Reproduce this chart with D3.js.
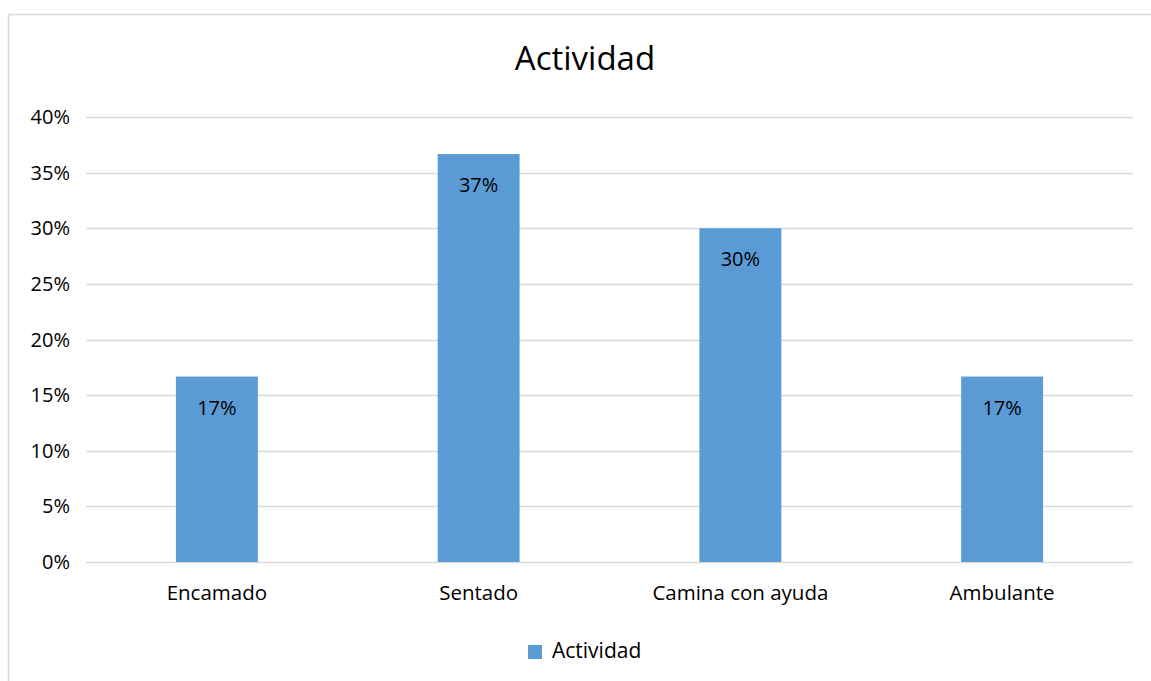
<!DOCTYPE html>
<html>
<head>
<meta charset="utf-8">
<title>Actividad</title>
<script src="https://cdn.jsdelivr.net/npm/d3@7"></script>
<style>
body { margin:0; background:#fff; }
text { font-family: "Open Sans", "DejaVu Sans", sans-serif; fill:#000; }
</style>
</head>
<body>
<svg id="chart" width="1151" height="681"></svg>
<script>
var categories = ["Encamado", "Sentado", "Camina con ayuda", "Ambulante"];
var values = [0.1667, 0.3667, 0.30, 0.1667];
var labels = ["17%", "37%", "30%", "17%"];
var yTicks = [0, 0.05, 0.10, 0.15, 0.20, 0.25, 0.30, 0.35, 0.40];
var seriesName = "Actividad";

var svg = d3.select("#chart");
var plotLeft = 86, plotRight = 1133, plotTop = 117, plotBottom = 562;

// outer frame
svg.append("rect")
	.attr("x", 8.5).attr("y", 14.5)
	.attr("width", 1160).attr("height", 700)
	.attr("fill", "none").attr("stroke", "#d9d9d9").attr("stroke-width", 1.5);

svg.append("text")
	.attr("x", 585).attr("y", 70)
	.attr("text-anchor", "middle")
	.style("font-size", "33px")
	.text("Actividad");

var x = d3.scaleBand().domain(categories).range([plotLeft, plotRight]).padding(0);
var y = d3.scaleLinear().domain([0, 0.4]).range([plotBottom, plotTop]);

// gridlines
svg.append("g").selectAll("line").data(yTicks).enter().append("line")
	.attr("x1", plotLeft).attr("x2", plotRight)
	.attr("y1", function(d){ return Math.round(y(d)) + 0.5; })
	.attr("y2", function(d){ return Math.round(y(d)) + 0.5; })
	.attr("stroke", "#d9d9d9").attr("stroke-width", 1.5);

// y tick labels
svg.append("g").selectAll("text").data(yTicks).enter().append("text")
	.attr("x", 70)
	.attr("y", function(d){ return y(d); })
	.attr("dy", "0.35em")
	.attr("text-anchor", "end")
	.style("font-size", "20px")
	.text(d3.format(".0%"));

var barW = x.bandwidth() * 0.313;

svg.append("g").selectAll("rect").data(values).enter().append("rect")
	.attr("x", function(d, i){ return x(categories[i]) + (x.bandwidth() - barW) / 2; })
	.attr("y", function(d){ return y(d); })
	.attr("width", barW)
	.attr("height", function(d){ return y(0) - y(d); })
	.attr("fill", "#5b9bd5");

// data labels
svg.append("g").selectAll("text").data(values).enter().append("text")
	.attr("x", function(d, i){ return x(categories[i]) + x.bandwidth() / 2; })
	.attr("y", function(d){ return y(d) + 38; })
	.attr("text-anchor", "middle")
	.style("font-size", "20px")
	.text(function(d, i){ return labels[i]; });

// category labels
svg.append("g").selectAll("text").data(categories).enter().append("text")
	.attr("x", function(d){ return x(d) + x.bandwidth() / 2; })
	.attr("y", 600)
	.attr("text-anchor", "middle")
	.style("font-size", "20.5px")
	.text(function(d){ return d; });

// legend
var lg = svg.append("g");
lg.append("rect").attr("x", 528).attr("y", 645).attr("width", 14).attr("height", 14).attr("fill", "#5b9bd5");
lg.append("text").attr("x", 552).attr("y", 658).style("font-size", "21px").text(seriesName);
</script>
</body>
</html>
